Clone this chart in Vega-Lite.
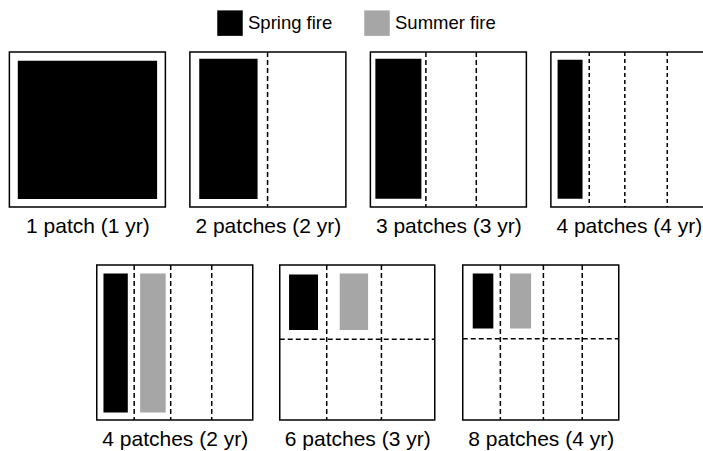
{
  "$schema": "https://vega.github.io/schema/vega-lite/v6.json",
  "padding": {"left": 8, "top": 10, "right": 0, "bottom": 0},
  "background": "white",
  "config": {
    "font": "Liberation Sans",
    "view": {"stroke": "black", "strokeWidth": 1.5, "fill": "white"},
    "axisX": {"labels": false, "ticks": false, "domain": false, "grid": false, "titleFontSize": 21, "titleFontWeight": "normal", "titleColor": "black", "titlePadding": 8, "titleFont": "Liberation Sans"},
    "legend": {"orient": "none", "legendX": 208, "legendY": -42, "direction": "horizontal", "symbolType": "square", "symbolSize": 650, "symbolStrokeWidth": 0, "labelFontSize": 18.5, "labelColor": "black", "labelOffset": 5, "columnPadding": 31, "padding": 0, "labelFont": "Liberation Sans"}
  },
  "center": true,
  "spacing": 26,
  "vconcat": [
    {
      "spacing": 22.5,
      "hconcat": [
        {
          "width": 156, "height": 155,
          "layer": [
            {
              "data": {"values": [{"fire": "Spring fire", "x0": 0.054, "x1": 0.947, "y0": 0.056, "y1": 0.948}]},
              "mark": {"type": "rect"},
              "encoding": {
                "x": {"field": "x0", "type": "quantitative", "scale": {"domain": [0, 1]}, "title": "1 patch (1 yr)"},
                "x2": {"field": "x1"},
                "y": {"field": "y0", "type": "quantitative", "scale": {"domain": [0, 1], "reverse": true}, "axis": null},
                "y2": {"field": "y1"},
                "color": {"field": "fire", "type": "nominal", "scale": {"domain": ["Spring fire", "Summer fire"], "range": ["#000000", "#a6a6a6"]}, "legend": {"title": null}}
              }
            }
          ]
        },
        {
          "width": 156, "height": 155,
          "layer": [
            {
              "data": {"values": [{"fire": "Spring fire", "x0": 0.06, "x1": 0.434, "y0": 0.043, "y1": 0.948}]},
              "mark": {"type": "rect"},
              "encoding": {
                "x": {"field": "x0", "type": "quantitative", "scale": {"domain": [0, 1]}, "title": "2 patches (2 yr)"},
                "x2": {"field": "x1"},
                "y": {"field": "y0", "type": "quantitative", "scale": {"domain": [0, 1], "reverse": true}, "axis": null},
                "y2": {"field": "y1"},
                "color": {"field": "fire", "type": "nominal", "scale": {"domain": ["Spring fire", "Summer fire"], "range": ["#000000", "#a6a6a6"]}, "legend": {"title": null}}
              }
            },
            {
              "data": {"values": [{"x0": 0.498, "x1": 0.498, "y0": 0, "y1": 1}]},
              "mark": {"type": "rule", "color": "black", "strokeWidth": 1.5, "strokeDash": [5, 3]},
              "encoding": {
                "x": {"field": "x0", "type": "quantitative", "title": "2 patches (2 yr)"},
                "x2": {"field": "x1"},
                "y": {"field": "y0", "type": "quantitative", "axis": null},
                "y2": {"field": "y1"}
              }
            }
          ]
        },
        {
          "width": 156, "height": 155,
          "layer": [
            {
              "data": {"values": [{"fire": "Spring fire", "x0": 0.032, "x1": 0.327, "y0": 0.043, "y1": 0.946}]},
              "mark": {"type": "rect"},
              "encoding": {
                "x": {"field": "x0", "type": "quantitative", "scale": {"domain": [0, 1]}, "title": "3 patches (3 yr)"},
                "x2": {"field": "x1"},
                "y": {"field": "y0", "type": "quantitative", "scale": {"domain": [0, 1], "reverse": true}, "axis": null},
                "y2": {"field": "y1"},
                "color": {"field": "fire", "type": "nominal", "scale": {"domain": ["Spring fire", "Summer fire"], "range": ["#000000", "#a6a6a6"]}, "legend": {"title": null}}
              }
            },
            {
              "data": {"values": [{"x0": 0.356, "x1": 0.356, "y0": 0, "y1": 1}, {"x0": 0.679, "x1": 0.679, "y0": 0, "y1": 1}]},
              "mark": {"type": "rule", "color": "black", "strokeWidth": 1.5, "strokeDash": [5, 3]},
              "encoding": {
                "x": {"field": "x0", "type": "quantitative", "title": "3 patches (3 yr)"},
                "x2": {"field": "x1"},
                "y": {"field": "y0", "type": "quantitative", "axis": null},
                "y2": {"field": "y1"}
              }
            }
          ]
        },
        {
          "width": 156, "height": 155,
          "layer": [
            {
              "data": {"values": [{"fire": "Spring fire", "x0": 0.043, "x1": 0.203, "y0": 0.05, "y1": 0.946}]},
              "mark": {"type": "rect"},
              "encoding": {
                "x": {"field": "x0", "type": "quantitative", "scale": {"domain": [0, 1]}, "title": "4 patches (4 yr)"},
                "x2": {"field": "x1"},
                "y": {"field": "y0", "type": "quantitative", "scale": {"domain": [0, 1], "reverse": true}, "axis": null},
                "y2": {"field": "y1"},
                "color": {"field": "fire", "type": "nominal", "scale": {"domain": ["Spring fire", "Summer fire"], "range": ["#000000", "#a6a6a6"]}, "legend": {"title": null}}
              }
            },
            {
              "data": {"values": [{"x0": 0.246, "x1": 0.246, "y0": 0, "y1": 1}, {"x0": 0.474, "x1": 0.474, "y0": 0, "y1": 1}, {"x0": 0.746, "x1": 0.746, "y0": 0, "y1": 1}]},
              "mark": {"type": "rule", "color": "black", "strokeWidth": 1.5, "strokeDash": [4, 3]},
              "encoding": {
                "x": {"field": "x0", "type": "quantitative", "title": "4 patches (4 yr)"},
                "x2": {"field": "x1"},
                "y": {"field": "y0", "type": "quantitative", "axis": null},
                "y2": {"field": "y1"}
              }
            }
          ]
        }
      ]
    },
    {
      "spacing": 24,
      "hconcat": [
        {
          "width": 156, "height": 155,
          "layer": [
            {
              "data": {"values": [{"fire": "Spring fire", "x0": 0.043, "x1": 0.199, "y0": 0.055, "y1": 0.952}, {"fire": "Summer fire", "x0": 0.278, "x1": 0.442, "y0": 0.055, "y1": 0.952}]},
              "mark": {"type": "rect"},
              "encoding": {
                "x": {"field": "x0", "type": "quantitative", "scale": {"domain": [0, 1]}, "title": "4 patches (2 yr)"},
                "x2": {"field": "x1"},
                "y": {"field": "y0", "type": "quantitative", "scale": {"domain": [0, 1], "reverse": true}, "axis": null},
                "y2": {"field": "y1"},
                "color": {"field": "fire", "type": "nominal", "scale": {"domain": ["Spring fire", "Summer fire"], "range": ["#000000", "#a6a6a6"]}, "legend": {"title": null}}
              }
            },
            {
              "data": {"values": [{"x0": 0.24, "x1": 0.24, "y0": 0, "y1": 1}, {"x0": 0.474, "x1": 0.474, "y0": 0, "y1": 1}, {"x0": 0.737, "x1": 0.737, "y0": 0, "y1": 1}]},
              "mark": {"type": "rule", "color": "black", "strokeWidth": 1.5, "strokeDash": [5, 3]},
              "encoding": {
                "x": {"field": "x0", "type": "quantitative", "title": "4 patches (2 yr)"},
                "x2": {"field": "x1"},
                "y": {"field": "y0", "type": "quantitative", "axis": null},
                "y2": {"field": "y1"}
              }
            }
          ]
        },
        {
          "width": 155, "height": 155,
          "layer": [
            {
              "data": {"values": [{"fire": "Spring fire", "x0": 0.06, "x1": 0.247, "y0": 0.062, "y1": 0.42}, {"fire": "Summer fire", "x0": 0.387, "x1": 0.57, "y0": 0.055, "y1": 0.42}]},
              "mark": {"type": "rect"},
              "encoding": {
                "x": {"field": "x0", "type": "quantitative", "scale": {"domain": [0, 1]}, "title": "6 patches (3 yr)"},
                "x2": {"field": "x1"},
                "y": {"field": "y0", "type": "quantitative", "scale": {"domain": [0, 1], "reverse": true}, "axis": null},
                "y2": {"field": "y1"},
                "color": {"field": "fire", "type": "nominal", "scale": {"domain": ["Spring fire", "Summer fire"], "range": ["#000000", "#a6a6a6"]}, "legend": {"title": null}}
              }
            },
            {
              "data": {"values": [{"x0": 0.303, "x1": 0.303, "y0": 0, "y1": 1}, {"x0": 0.656, "x1": 0.656, "y0": 0, "y1": 1}, {"x0": 0, "x1": 1, "y0": 0.479, "y1": 0.479}]},
              "mark": {"type": "rule", "color": "black", "strokeWidth": 1.5, "strokeDash": [5, 3]},
              "encoding": {
                "x": {"field": "x0", "type": "quantitative", "title": "6 patches (3 yr)"},
                "x2": {"field": "x1"},
                "y": {"field": "y0", "type": "quantitative", "axis": null},
                "y2": {"field": "y1"}
              }
            }
          ]
        },
        {
          "width": 156, "height": 155,
          "layer": [
            {
              "data": {"values": [{"fire": "Spring fire", "x0": 0.064, "x1": 0.196, "y0": 0.055, "y1": 0.41}, {"fire": "Summer fire", "x0": 0.303, "x1": 0.438, "y0": 0.055, "y1": 0.41}]},
              "mark": {"type": "rect"},
              "encoding": {
                "x": {"field": "x0", "type": "quantitative", "scale": {"domain": [0, 1]}, "title": "8 patches (4 yr)"},
                "x2": {"field": "x1"},
                "y": {"field": "y0", "type": "quantitative", "scale": {"domain": [0, 1], "reverse": true}, "axis": null},
                "y2": {"field": "y1"},
                "color": {"field": "fire", "type": "nominal", "scale": {"domain": ["Spring fire", "Summer fire"], "range": ["#000000", "#a6a6a6"]}, "legend": {"title": null}}
              }
            },
            {
              "data": {"values": [{"x0": 0.241, "x1": 0.241, "y0": 0, "y1": 1}, {"x0": 0.517, "x1": 0.517, "y0": 0, "y1": 1}, {"x0": 0.766, "x1": 0.766, "y0": 0, "y1": 1}, {"x0": 0, "x1": 1, "y0": 0.475, "y1": 0.475}]},
              "mark": {"type": "rule", "color": "black", "strokeWidth": 1.5, "strokeDash": [5, 3]},
              "encoding": {
                "x": {"field": "x0", "type": "quantitative", "title": "8 patches (4 yr)"},
                "x2": {"field": "x1"},
                "y": {"field": "y0", "type": "quantitative", "axis": null},
                "y2": {"field": "y1"}
              }
            }
          ]
        }
      ]
    }
  ]
}
